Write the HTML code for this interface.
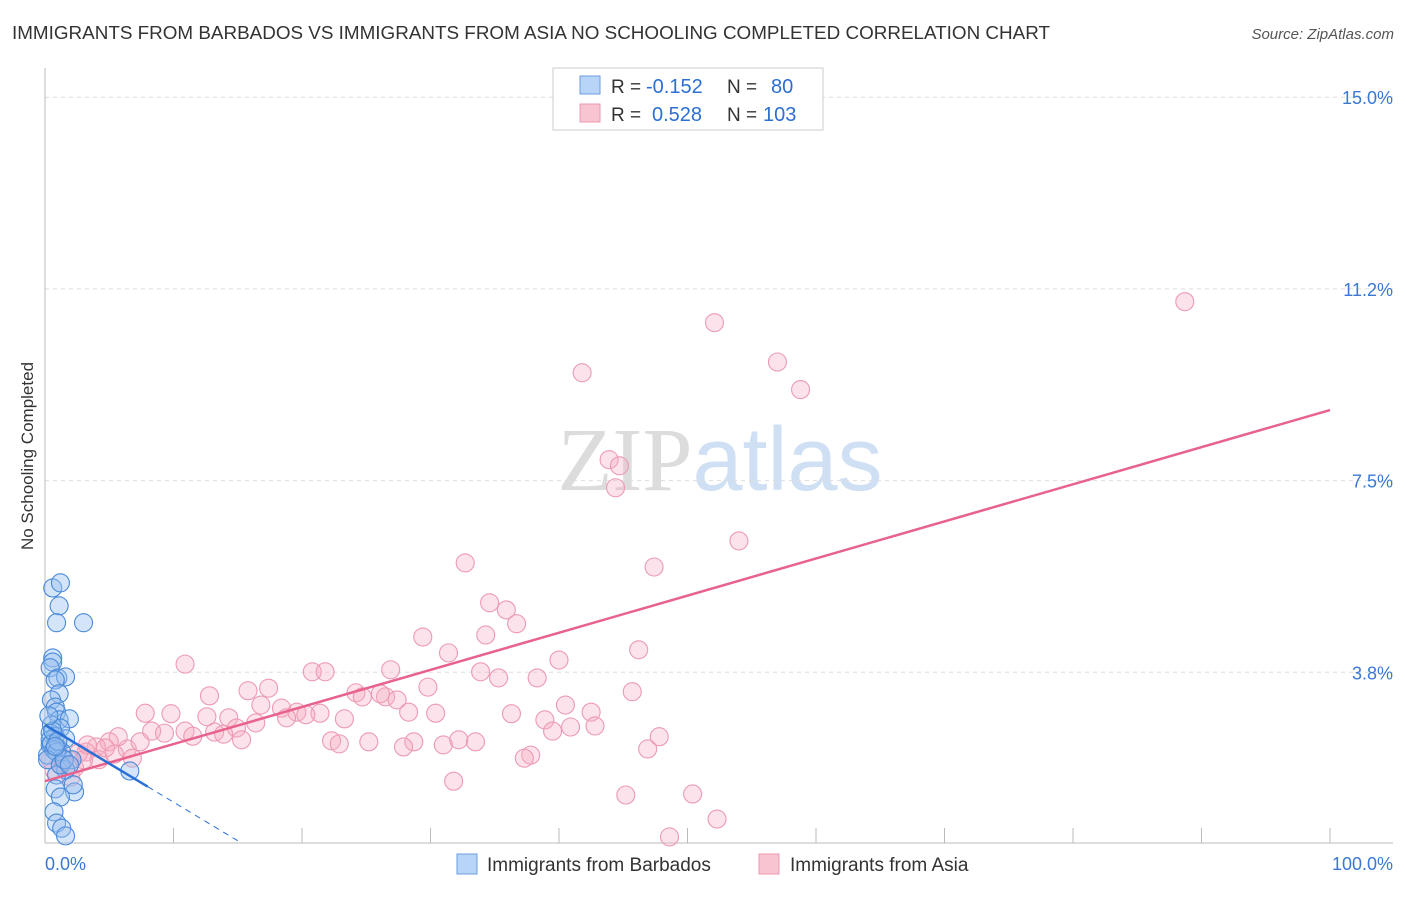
<!DOCTYPE html>
<html><head><meta charset="utf-8">
<style>
body{margin:0;background:#fff;font-family:"Liberation Sans",sans-serif;}
svg text{font-family:"Liberation Sans",sans-serif;}
</style></head>
<body>
<svg id="chart" width="1406" height="892" viewBox="0 0 1406 892" xmlns="http://www.w3.org/2000/svg">
<text x="12" y="39" font-size="18" fill="#333" textLength="1038" lengthAdjust="spacingAndGlyphs">IMMIGRANTS FROM BARBADOS VS IMMIGRANTS FROM ASIA NO SCHOOLING COMPLETED CORRELATION CHART</text>
<text x="1394" y="39" font-size="15" fill="#555" text-anchor="end" font-style="italic">Source: ZipAtlas.com</text>
<text x="720" y="490" font-size="90" text-anchor="middle"><tspan font-family="Liberation Serif" fill="#dcdcdc">ZIP</tspan><tspan fill="#cfe0f4">atlas</tspan></text>
<g id="grid"></g>
<g id="axes"></g>
<g id="points"></g>
<g id="trends"></g>
<text transform="translate(33,456) rotate(-90)" font-size="17" fill="#333" text-anchor="middle">No Schooling Completed</text>
<g>
<rect x="553" y="68" width="270" height="62" fill="#fff" stroke="#ccc"/>
<rect x="580" y="76" width="20" height="18" fill="#b8d4f6" stroke="#6a9ee0"/>
<rect x="580" y="104" width="20" height="18" fill="#f9c4d2" stroke="#eb9ab0"/>
<text x="611" y="93" font-size="19" fill="#333">R =</text>
<text x="646" y="93" font-size="20" fill="#2c6fd1">-0.152</text>
<text x="727" y="93" font-size="19" fill="#333">N =</text>
<text x="771" y="93" font-size="20" fill="#2c6fd1">80</text>
<text x="611" y="121" font-size="19" fill="#333">R =</text>
<text x="652" y="121" font-size="20" fill="#2c6fd1">0.528</text>
<text x="727" y="121" font-size="19" fill="#333">N =</text>
<text x="763" y="121" font-size="20" fill="#2c6fd1">103</text>
</g>
<g>
<rect x="457" y="854" width="20" height="20" fill="#b8d4f6" stroke="#6a9ee0"/>
<text x="487" y="871" font-size="19" fill="#333">Immigrants from Barbados</text>
<rect x="759" y="854" width="20" height="20" fill="#f9c4d2" stroke="#eb9ab0"/>
<text x="790" y="871" font-size="19" fill="#333">Immigrants from Asia</text>
</g>
</svg>
<script>
const yTicks=[3.75,7.5,11.25,15];
const yTickLabels=["3.8%","7.5%","11.2%","15.0%"];
const xTickVals=[0,10,20,30,40,50,60,70,80,90,100];
const barbadosX=[0.6,1.2,1.1,0.9,3.0,0.6,0.6,0.4,1.0,1.6,0.8,1.1,0.5,0.8,0.9,1.1,1.9,0.5,1.2,0.4,0.8,1.6,0.4,1.0,1.3,0.2,2.1,1.6,0.9,6.6,0.8,2.3,2.2,1.2,0.7,0.9,1.3,1.6,0.4,0.5,0.7,0.9,0.2,1.2,1.5,1.9,0.6,1.0,0.3,0.8];
const barbadosY=[5.40,5.50,5.05,4.72,4.72,4.03,3.95,3.84,3.64,3.66,3.60,3.33,3.21,3.07,2.97,2.82,2.84,2.72,2.66,2.56,2.50,2.45,2.33,2.27,2.19,2.13,2.04,1.84,1.74,1.82,1.47,1.41,1.55,1.31,1.02,0.80,0.70,0.55,2.43,2.35,2.23,2.19,2.04,1.94,2.04,1.94,2.60,2.40,2.90,2.30];
const asiaX=[10.9,43.9,44.7,44.4,41.8,52.1,57.0,58.8,88.7,54.0,47.4,32.7,34.6,35.9,36.7,34.3,29.4,31.4,40.0,46.2,26.9,20.8,21.8,33.9,35.3,38.3,29.8,17.4,15.8,12.8,24.2,26.5,24.7,26.1,27.4,45.7,40.5,42.5,16.8,18.4,19.6,21.4,20.3,7.8,9.8,12.6,14.3,16.4,18.8,30.4,28.3,36.3,38.9,42.8,23.3,14.9,13.2,8.3,9.3,10.9,11.5,13.9,15.3,22.3,22.9,25.2,28.7,27.9,31.0,32.2,33.5,39.5,40.9,47.8,46.9,37.8,37.3,6.4,5.7,5.0,4.0,3.2,2.6,4.2,6.8,1.9,1.2,0.7,1.3,2.3,3.0,31.8,45.2,50.4,52.3,48.6,0.4,1.0,3.3,4.7,5.4,7.4,2.0];
const asiaY=[3.91,7.91,7.79,7.36,9.61,10.59,9.82,9.28,11.00,6.32,5.81,5.89,5.11,4.97,4.70,4.48,4.44,4.13,3.99,4.19,3.80,3.76,3.76,3.76,3.64,3.64,3.46,3.44,3.39,3.29,3.35,3.27,3.27,3.33,3.21,3.37,3.11,2.97,3.11,3.05,2.97,2.95,2.92,2.95,2.94,2.88,2.86,2.76,2.86,2.95,2.97,2.94,2.82,2.70,2.84,2.66,2.58,2.60,2.56,2.60,2.50,2.54,2.43,2.41,2.35,2.39,2.39,2.29,2.33,2.43,2.39,2.60,2.68,2.49,2.25,2.13,2.07,2.25,2.49,2.39,2.29,2.19,2.17,2.04,2.07,2.04,1.94,1.84,1.98,1.88,2.04,1.62,1.35,1.37,0.88,0.53,2.04,2.23,2.33,2.27,2.15,2.39,1.70];
const asiaTrend=[1.62,8.88];
const barbadosTrend=[2.72,-0.151];
const NS="http://www.w3.org/2000/svg";
const xS=v=>45+v*12.85;
const yS=v=>864-v*51.12;
function mk(tag,attrs,parent){const e=document.createElementNS(NS,tag);for(const k in attrs)e.setAttribute(k,attrs[k]);parent.appendChild(e);return e;}
const grid=document.getElementById('grid'),axes=document.getElementById('axes'),pts=document.getElementById('points'),tr=document.getElementById('trends');
yTicks.forEach((t,i)=>{
  const l=mk('line',{x1:45,x2:1393,y1:yS(t),y2:yS(t),stroke:'#ddd','stroke-dasharray':'4,4'},grid);
  
  
  const tx=mk('text',{x:1393,y:yS(t)+7,'font-size':18,fill:'#3a78d4','text-anchor':'end'},axes);
  tx.textContent=yTickLabels[i];
  
  
});
const ax=mk('line',{x1:45,x2:45,y1:68,y2:843,stroke:'#bbb'},axes);


const bx=mk('line',{x1:45,x2:1393,y1:843,y2:843,stroke:'#bbb'},axes);


xTickVals.forEach(v=>{
  const t=mk('line',{x1:xS(v),x2:xS(v),y1:828,y2:843,stroke:'#bbb'},axes);
  
  
});
const xl0=mk('text',{x:45,y:870,'font-size':18,fill:'#3a78d4'},axes);xl0.textContent='0.0%';


const xl1=mk('text',{x:1393,y:870,'font-size':18,fill:'#3a78d4','text-anchor':'end'},axes);xl1.textContent='100.0%';


asiaX.forEach((v,i)=>{
  const c=mk('circle',{cx:xS(v),cy:yS(asiaY[i]),r:9,fill:'rgba(246,172,196,0.35)',stroke:'#ec9ab4','stroke-width':1.1},pts);
  
  
});
barbadosX.forEach((v,i)=>{
  const c=mk('circle',{cx:xS(v),cy:yS(barbadosY[i]),r:9,fill:'rgba(150,190,240,0.4)',stroke:'#4a8ad8','stroke-width':1.1},pts);
  
  
});
const pl=mk('line',{x1:xS(0),y1:yS(asiaTrend[0]),x2:xS(100),y2:yS(asiaTrend[1]),stroke:'#e8628e','stroke-width':2.5},tr);


const bf=x=>barbadosTrend[0]+barbadosTrend[1]*x;
const bl=mk('line',{x1:xS(0),y1:yS(bf(0)),x2:xS(8),y2:yS(bf(8)),stroke:'#2a6fd6','stroke-width':2.5},tr);


const bd=mk('line',{x1:xS(8),y1:yS(bf(8)),x2:xS(15),y2:yS(bf(15)),stroke:'#2a6fd6','stroke-width':1,'stroke-dasharray':'6,5'},tr);


</script>
</body></html>
